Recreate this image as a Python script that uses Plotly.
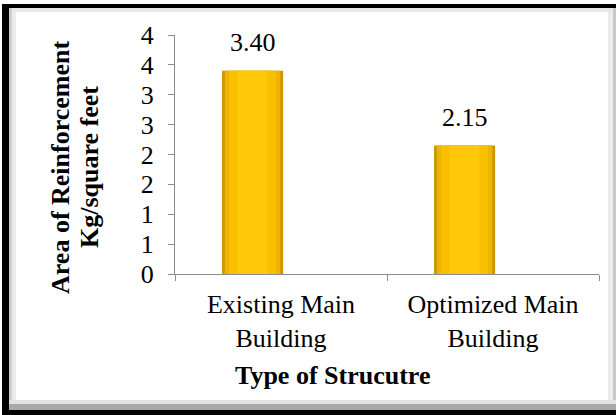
import plotly.graph_objects as go

categories = ["Existing Main<br>Building", "Optimized Main<br>Building"]
values = [3.40, 2.15]
value_labels = ["3.40", "2.15"]
y_tickvals = [0, 0.5, 1, 1.5, 2, 2.5, 3, 3.5, 4]
y_ticktext = ["0", "1", "1", "2", "2", "3", "3", "4", "4"]
x_title = "Type of Strucutre"
y_title_lines = ["Area of Reinforcement", "Kg/square feet"]

W, H = 616, 415
L, R, T, B = 175, 17, 35, 141
PW, PH = W - L - R, H - T - B
FONT = "Liberation Serif, Times New Roman, serif"


def px_x(x):
    return (x - L) / PW


def px_y(y):
    return (H - B - y) / PH


fig = go.Figure()

bar_off = -0.278
bar_w = 0.288
layers = [(bar_w, "#C99700"), (0.262, "#EDB400"), (0.22, "#FAC000"), (0.14, "#FFC808")]
for w, col in layers:
    fig.add_trace(go.Bar(
        x=categories, y=values,
        width=w, offset=bar_off + (bar_w - w) / 2,
        marker=dict(color=col, line=dict(width=0)),
        hoverinfo="skip", showlegend=False,
    ))

shapes = []


def rect(x0, y0, x1, y1, color):
    shapes.append(dict(type="rect", xref="paper", yref="paper",
                       x0=px_x(x0), x1=px_x(x1), y0=px_y(y1), y1=px_y(y0),
                       fillcolor=color, line=dict(width=0), layer="above"))


# frame bevel
rect(9, 8, 616, 12, "#e8e8e8")
rect(9, 8, 12, 410, "#cfcfcf")
rect(12, 12, 16, 400, "#ececec")
rect(608, 12, 616, 400, "#ececec")
rect(613, 8, 616, 410, "#c8c8c8")
rect(9, 400, 616, 404, "#e2e2e2")
rect(9, 404, 616, 410, "#a9a9a9")
# frame black
rect(2, 4, 616, 8, "#000000")
rect(2, 4, 9, 415, "#000000")
rect(2, 410, 616, 415, "#000000")

annotations = []
for i, (v, t) in enumerate(zip(values, value_labels)):
    annotations.append(dict(x=i + bar_off + bar_w / 2, y=v, xref="x", yref="y",
                            text=t, showarrow=False, yanchor="middle", yshift=28,
                            font=dict(family=FONT, size=26, color="black")))

annotations.append(dict(x=px_x(332), y=px_y(375), xref="paper", yref="paper",
                        text="<b>%s</b>" % x_title, showarrow=False,
                        xanchor="center", yanchor="middle",
                        font=dict(family=FONT, size=26, color="black")))
for xp, line in zip([60, 89], y_title_lines):
    annotations.append(dict(x=px_x(xp), y=px_y(167), xref="paper", yref="paper",
                            text="<b>%s</b>" % line, showarrow=False, textangle=-90,
                            xanchor="center", yanchor="middle",
                            font=dict(family=FONT, size=26, color="black")))

fig.update_layout(
    width=W, height=H,
    margin=dict(l=L, r=R, t=T, b=B, pad=0),
    paper_bgcolor="white", plot_bgcolor="white",
    barmode="overlay",
    showlegend=False,
    shapes=shapes,
    annotations=annotations,
    xaxis=dict(type="category", range=[-0.5, 1.5], tickson="boundaries",
               ticks="outside", ticklen=6, tickcolor="#8c8c8c", tickwidth=1,
               showline=True, linecolor="#8c8c8c", linewidth=1,
               showgrid=False, zeroline=False,
               tickfont=dict(family=FONT, size=26, color="black"),
               ticklabelstandoff=7),
    yaxis=dict(range=[0, 4], tickvals=y_tickvals, ticktext=y_ticktext,
               ticks="outside", ticklen=6, tickcolor="#8c8c8c", tickwidth=1,
               showline=True, linecolor="#8c8c8c", linewidth=1,
               showgrid=False, zeroline=False,
               tickfont=dict(family=FONT, size=26, color="black"),
               ticklabelstandoff=9),
)

fig.write_html(
    "out.html",
    config={"displayModeBar": False},
    post_script="document.body.style.margin='0';document.body.style.overflow='hidden';",
)
